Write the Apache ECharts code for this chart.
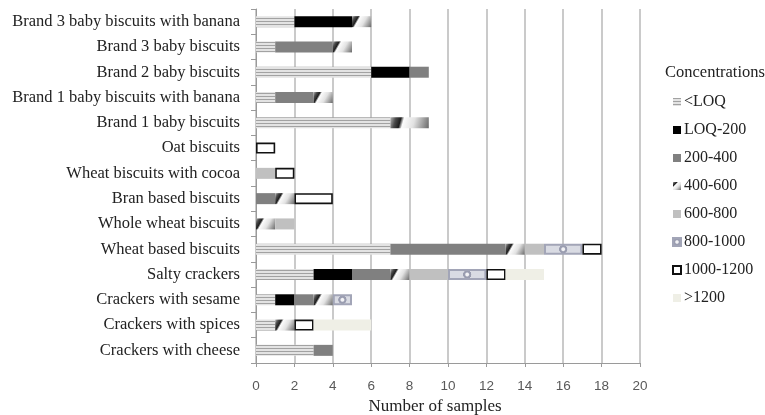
<!DOCTYPE html>
<html>
<head>
<meta charset="utf-8">
<script src="https://cdn.jsdelivr.net/npm/echarts@6/dist/echarts.min.js"></script>
<style>
html,body{margin:0;padding:0;background:#fff;}
#chart{width:765px;height:415px;}
</style>
</head>
<body>
<div id="chart"></div>
<script>
// ---- data (categories listed top to bottom) ----
const categories = [
  'Brand 3 baby biscuits with banana',
  'Brand 3 baby biscuits',
  'Brand 2 baby biscuits',
  'Brand 1 baby biscuits with banana',
  'Brand 1 baby biscuits',
  'Oat biscuits',
  'Wheat biscuits with cocoa',
  'Bran based biscuits',
  'Whole wheat biscuits',
  'Wheat based biscuits',
  'Salty crackers',
  'Crackers with sesame',
  'Crackers with spices',
  'Crackers with cheese'
];
const seriesNames = ['<LOQ', 'LOQ-200', '200-400', '400-600', '600-800', '800-1000', '1000-1200', '>1200'];
const belowLOQ   = [2, 1, 6, 1, 7, 0, 0, 0, 0, 7, 3, 1, 1, 3];
const loq200     = [3, 0, 2, 0, 0, 0, 0, 0, 0, 0, 2, 1, 0, 0];
const c200_400   = [0, 3, 1, 2, 0, 0, 0, 1, 0, 6, 2, 1, 0, 1];
const c400_600   = [1, 1, 0, 1, 2, 0, 0, 1, 1, 1, 1, 1, 1, 0];
const c600_800   = [0, 0, 0, 0, 0, 0, 1, 0, 1, 1, 2, 0, 0, 0];
const c800_1000  = [0, 0, 0, 0, 0, 0, 0, 0, 0, 2, 2, 1, 0, 0];
const c1000_1200 = [0, 0, 0, 0, 0, 1, 1, 2, 0, 1, 1, 0, 1, 0];
const above1200  = [0, 0, 0, 0, 0, 0, 0, 0, 0, 0, 2, 0, 3, 0];
const xTicks = {min: 0, max: 20, interval: 2};

// ---- styles ----
function stripeCanvas() {
  const c = document.createElement('canvas');
  c.width = 4; c.height = 3;
  const g = c.getContext('2d');
  g.fillStyle = '#e3e3e3'; g.fillRect(0, 0, 4, 3);
  g.fillStyle = '#a2a2a2'; g.fillRect(0, 0, 4, 1);
  return c;
}
const styles = [
  {color: {image: stripeCanvas(), repeat: 'repeat'}},
  {color: '#000000'},
  {color: '#808080'},
  {color: {type: 'linear', x: 0, y: 0, x2: 1, y2: 1, colorStops: [
    {offset: 0, color: '#b5b5b5'}, {offset: 0.14, color: '#4a4a4a'},
    {offset: 0.26, color: '#1e1e1e'}, {offset: 0.34, color: '#fcfcfc'},
    {offset: 0.6, color: '#e2e2e2'}, {offset: 1, color: '#686868'}]}},
  {color: '#c0c0c0'},
  {color: {type: 'radial', x: 0.5, y: 0.5, r: 0.5, colorStops: [
    {offset: 0, color: '#f2f2f5'}, {offset: 0.25, color: '#f2f2f5'},
    {offset: 0.45, color: '#9a9db0'}, {offset: 0.7, color: '#9a9db0'},
    {offset: 0.8, color: '#d9dbe3'}, {offset: 1, color: '#d9dbe3'}]},
   borderColor: '#a2a5b7', borderWidth: 2},
  {color: '#ffffff', borderColor: '#111111', borderWidth: 1.6},
  {color: '#efefe6'}
];
const values = [belowLOQ, loq200, c200_400, c400_600, c600_800, c800_1000, c1000_1200, above1200];

const serif = '"Liberation Serif", "Times New Roman", serif';

const series = seriesNames.map((name, i) => ({
  name: name,
  type: 'bar',
  stack: 'total',
  barWidth: 11,
  itemStyle: styles[i],
  emphasis: {disabled: true},
  data: values[i].map(v => v === 0 ? '-' : v)
}));

const chart = echarts.init(document.getElementById('chart'), null, {renderer: 'canvas'});
chart.setOption({
  animation: false,
  backgroundColor: '#ffffff',
  title: {
    text: 'Concentrations',
    left: 665, top: 64, padding: 0,
    textStyle: {fontFamily: serif, fontSize: 16.5, fontWeight: 'normal', color: '#222'}
  },
  legend: {
    orient: 'vertical',
    left: 667, top: 89,
    itemWidth: 8, itemHeight: 8, itemGap: 12,
    icon: 'rect',
    selectedMode: false,
    textStyle: {fontFamily: serif, fontSize: 16, color: '#222', lineHeight: 16, padding: [0, 0, 0, -2]},
    data: seriesNames
  },
  grid: {left: 256, right: 125, top: 9, bottom: 52, containLabel: false, outerBoundsMode: 'none'},
  xAxis: {
    type: 'value',
    min: xTicks.min, max: xTicks.max, interval: xTicks.interval,
    name: 'Number of samples',
    nameLocation: 'middle',
    nameGap: 35,
    nameTextStyle: {fontFamily: serif, fontSize: 17, color: '#222', padding: [0, 26, 0, 0]},
    axisLine: {show: true, lineStyle: {color: '#9a9a9a', width: 1}},
    axisTick: {show: true, length: 4, lineStyle: {color: '#9a9a9a'}},
    axisLabel: {fontFamily: '"Liberation Sans", Arial, sans-serif', fontSize: 13.5, color: '#595959', margin: 16},
    splitLine: {show: true, lineStyle: {color: '#b8b8b8', width: 1.5}}
  },
  yAxis: {
    type: 'category',
    inverse: true,
    data: categories,
    axisLine: {show: true, lineStyle: {color: '#9a9a9a', width: 1}},
    axisTick: {show: true, length: 5, lineStyle: {color: '#9a9a9a'}},
    axisLabel: {fontFamily: serif, fontSize: 16.5, color: '#222', margin: 16},
    splitLine: {show: false}
  },
  series: series
});
</script>
</body>
</html>
